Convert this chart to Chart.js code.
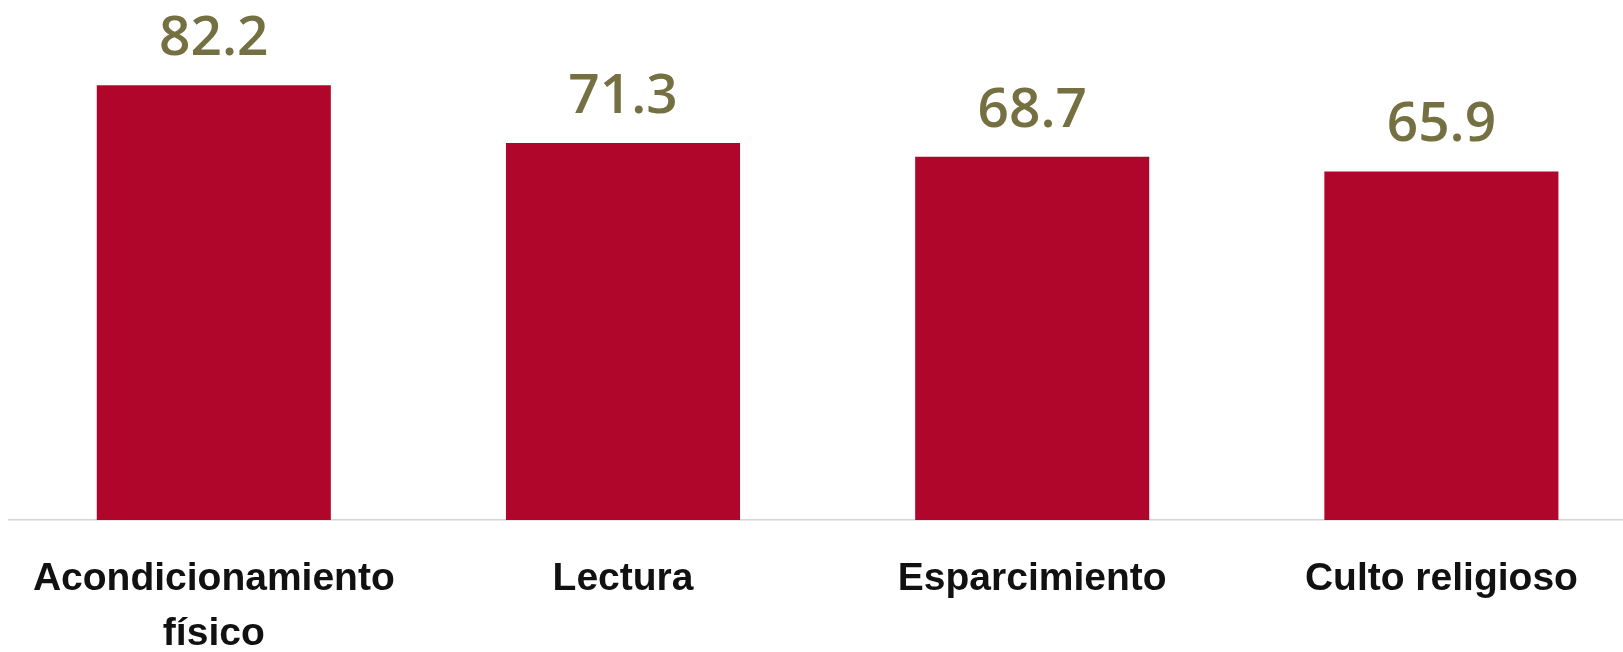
<!DOCTYPE html>
<html>
<head>
<meta charset="utf-8">
<script src="https://cdn.jsdelivr.net/npm/chart.js@4/dist/chart.umd.min.js"></script>
<style>
  html, body { margin: 0; padding: 0; background: #fff; overflow: hidden; }
  #wrap { width: 1623px; height: 652px; overflow: hidden; }
</style>
</head>
<body>
<div id="wrap"><canvas id="chart" width="1646" height="652"></canvas></div>
<script>
const CHART = document.getElementById("chart").getContext("2d");

let categories = [["Acondicionamiento", "físico"], "Lectura", "Esparcimiento", "Culto religioso"];
let values = [82.2, 71.3, 68.7, 65.9];

// draws the number above each bar
const valueLabels = {
    id: "valueLabels",
    afterDatasetsDraw(chart) {
        const ctx = chart.ctx;
        const meta = chart.getDatasetMeta(0);
        ctx.save();
        ctx.font = "600 55px 'Open Sans'";
        ctx.fillStyle = "#757042";
        ctx.textAlign = "center";
        ctx.textBaseline = "alphabetic";
        meta.data.forEach(function (bar, i) {
            ctx.fillText(values[i].toFixed(1), bar.x, bar.y - 30);
        });
        ctx.restore();
    }
};

let barChart = new Chart(CHART, {
    type: "bar",
    data: {
        labels: categories,
        datasets: [
            {
                data: values,
                backgroundColor: "#B0062C",
                barPercentage: 1,
                categoryPercentage: 0.572,
            }
        ],
    },
    options: {
        responsive: false,
        animation: false,
        layout: { padding: { left: 7, top: 44, right: 0, bottom: 0 } },
        plugins: {
            legend: { display: false },
            tooltip: { enabled: false },
        },
        scales: {
            y: {
                display: false,
                min: 0,
                max: 90,
            },
            x: {
                afterFit: function (scale) { scale.height = 132; },
                grid: { display: false, drawTicks: false },
                border: { display: true, color: "#d4d4d4", width: 1.5 },
                ticks: {
                    color: "#111",
                    font: { family: "'Liberation Sans', Arial", size: 39, weight: "bold", lineHeight: 1.4 },
                    padding: 32,
                    maxRotation: 0,
                    autoSkip: false,
                },
            },
        },
    },
    plugins: [valueLabels],
});
</script>
</body>
</html>
